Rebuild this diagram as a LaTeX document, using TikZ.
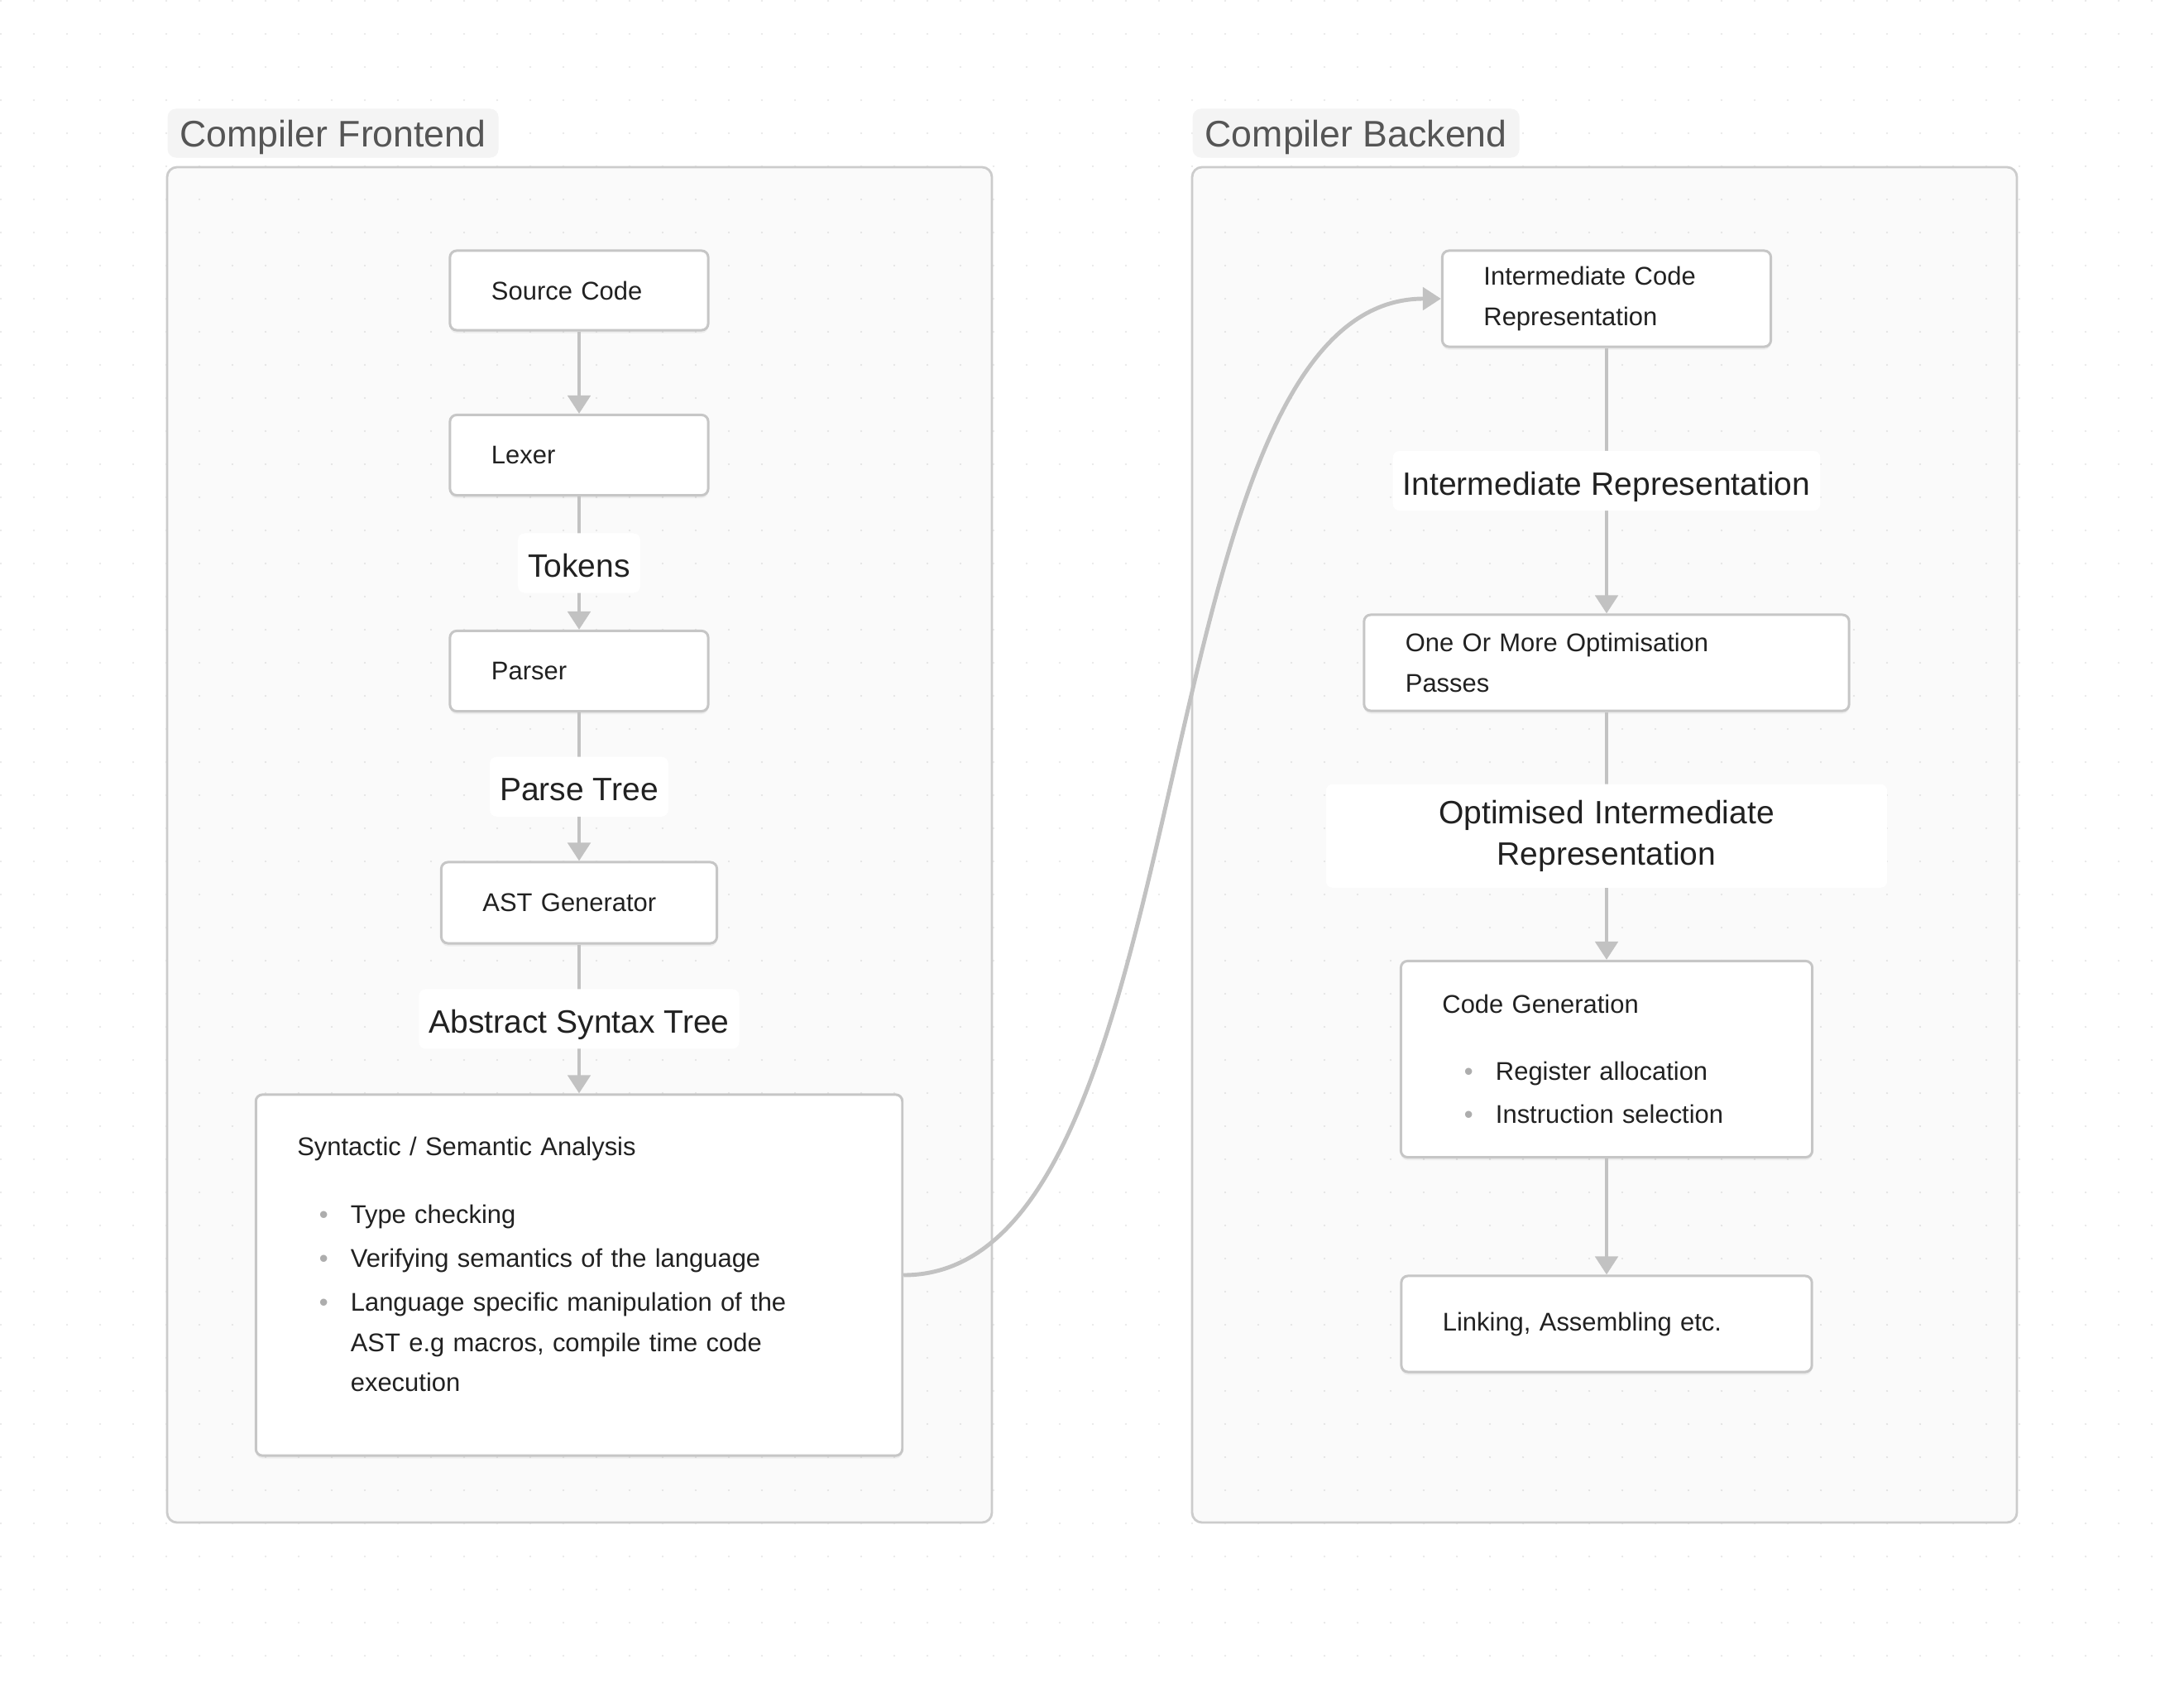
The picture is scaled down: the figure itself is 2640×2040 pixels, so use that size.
\documentclass[tikz,border=0pt]{standalone}
\usepackage{fontspec}
\setmainfont{Liberation Sans}
\usetikzlibrary{arrows.meta,shadows}

\definecolor{inkc}{HTML}{212121}
\definecolor{linec}{HTML}{C2C2C2}
\definecolor{boxc}{HTML}{C6C6C6}
\definecolor{panelc}{HTML}{CCCCCC}
\definecolor{titlebg}{HTML}{F4F4F4}
\definecolor{titlec}{HTML}{555555}
\definecolor{bulletc}{HTML}{ADADAD}
\definecolor{gridc}{HTML}{E4E4E4}

\newcommand{\boxfont}{\fontsize{8.8pt}{13.7pt}\selectfont}
\newcommand{\lblfont}{\fontsize{11.1pt}{14.2pt}\selectfont}
\newcommand{\titlefont}{\fontsize{12.7pt}{15pt}\selectfont}
\newcommand{\bul}{\makebox[0.645cm][l]{\hspace*{0.265cm}\textcolor{bulletc}{•}}}
\newcommand{\hang}{\hspace*{0.645cm}}

\tikzset{
    panel/.style={draw=panelc, fill=black, fill opacity=0.02, line width=0.8pt, rounded corners=0.12cm},
    paneltitle/.style={anchor=west, fill=titlebg, rounded corners=0.1cm, text=titlec, font=\titlefont, inner xsep=0.15cm,
        minimum height=0.59cm, text height=0.33cm, text depth=0cm},
    box/.style={draw=boxc, fill=white, line width=0.85pt, rounded corners=0.08cm, inner xsep=0.5cm, align=left, text=inkc, font=\boxfont,
        drop shadow={shadow xshift=0cm, shadow yshift=-0.035cm, opacity=0.1}},
    lbl/.style={fill=white, rounded corners=0.08cm, inner xsep=0.12cm, minimum height=0.72cm, text=inkc, font=\lblfont},
    flat/.style={text height=0.34cm, text depth=0cm},
    arr/.style={draw=linec, line width=1.4pt, -{Triangle[width=0.27cm, length=0.22cm]}},
}

\begin{document}
\begin{tikzpicture}[x=0.01cm, y=-0.01cm]
    \useasboundingbox (0,0) rectangle (2640,2040);
    \fill[white] (0,0) rectangle (2640,2040);
    % Background dots:
    \foreach \i in {0,...,65}
        \foreach \j in {0,...,50}
            \fill[gridc] (40*\i+1, 40*\j+1) circle (0.012cm);

    % Panels and their titles:
    \draw[panel] (202,202) rectangle (1199,1840);
    \draw[panel] (1441,202) rectangle (2438,1840);
    \node[paneltitle] (fetitle) at (202,161) {Compiler Frontend};
    \node[paneltitle] (betitle) at (1441,161) {Compiler Backend};

    % Frontend boxes:
    \node[box, text width=2.12cm, minimum height=0.96cm] (src) at (700,351) {Source Code};
    \node[box, text width=2.12cm, minimum height=0.97cm] (lexer) at (700,550) {Lexer};
    \node[box, text width=2.12cm, minimum height=0.97cm] (parser) at (700,811) {Parser};
    \node[box, text width=2.33cm, minimum height=0.98cm] (astgen) at (700,1091) {AST Generator};
    \node[box, text width=6.81cm, minimum height=4.36cm] (semantic) at (700,1541) {Syntactic / Semantic Analysis\\[9.35pt]
        \bul Type checking\\[1.5pt]
        \bul Verifying semantics of the language\\[1.5pt]
        \bul Language specific manipulation of the\\
        \hang AST e.g macros, compile time code\\
        \hang execution\\[-0.22cm]\mbox{}};

    % Backend boxes:
    \node[box, text width=2.97cm, minimum height=1.16cm] (icr) at (1942,361) {Intermediate Code\\Representation};
    \node[box, text width=4.86cm, minimum height=1.16cm] (optpass) at (1942,801) {One Or More Optimisation\\Passes};
    \node[box, text width=3.97cm, minimum height=2.37cm] (codegen) at (1942,1280) {Code Generation\\[9.35pt]
        \bul Register allocation\\[1pt]
        \bul Instruction selection};
    \node[box, text width=3.96cm, minimum height=1.16cm] (linking) at (1942,1600) {Linking, Assembling etc.};

    % Connectors:
    \draw[arr] (src) -- (lexer);
    \draw[arr] (lexer) -- node[lbl, flat] (tokens) {Tokens} (parser);
    \draw[arr] (parser) -- node[lbl, flat] (parsetree) {Parse Tree} (astgen);
    \draw[arr] (astgen) -- node[lbl, flat] (ast) {Abstract Syntax Tree} (semantic);
    \draw[arr] (semantic.east) .. controls +(370,0) and +(-370,0) .. (icr.west);
    \draw[arr] (icr) -- node[lbl, flat] (ir) {Intermediate Representation} (optpass);
    \draw[arr] (optpass) -- node[lbl, text width=6.54cm, align=center, minimum height=1.25cm] (oir) {Optimised Intermediate\\Representation} (codegen);
    \draw[arr] (codegen) -- (linking);
\end{tikzpicture}
\end{document}
